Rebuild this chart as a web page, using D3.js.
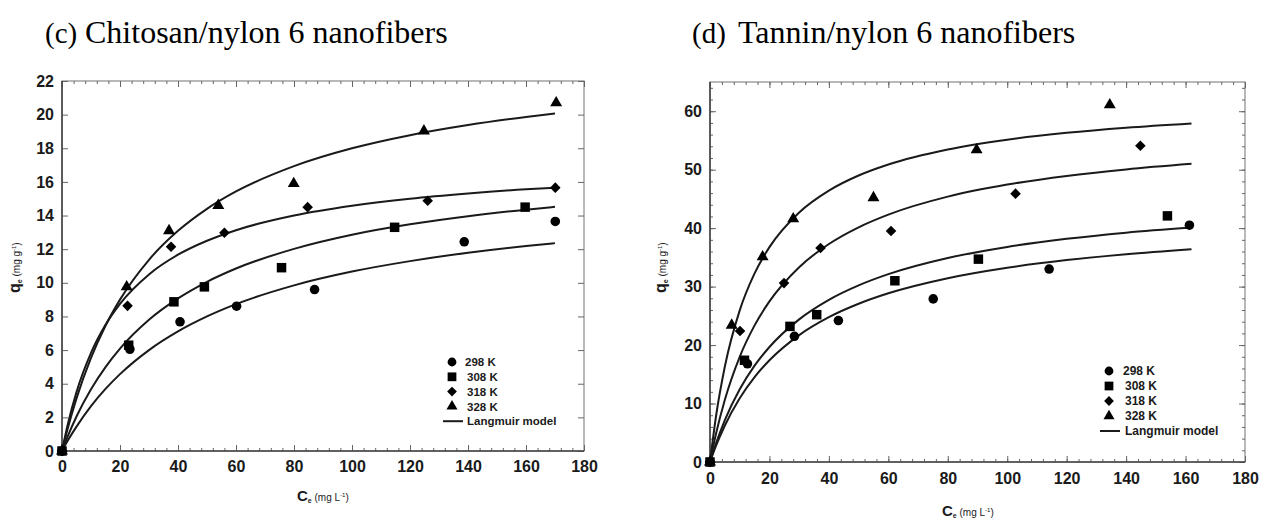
<!DOCTYPE html>
<html>
<head>
<meta charset="utf-8">
<script src="https://cdn.jsdelivr.net/npm/d3@7"></script>
<style>
  body { margin: 0; background: #fff; }
  svg text { font-family: "Liberation Sans", Arial, sans-serif; fill: #1a1a1a; }
  svg .title { font-family: "Liberation Serif", "Times New Roman", serif; fill: #000; }
</style>
</head>
<body>
<svg id="chart" width="1261" height="521"></svg>
<script>

// ---- Data ----

// tick labels
const xTicks = [0, 20, 40, 60, 80, 100, 120, 140, 160, 180];
const chitosanYTicks = [0, 2, 4, 6, 8, 10, 12, 14, 16, 18, 20, 22];
const tanninYTicks = [0, 10, 20, 30, 40, 50, 60];
const legendLabels = ["298 K", "308 K", "318 K", "328 K", "Langmuir model"];

// (c) Chitosan/nylon 6 - measured points [Ce, qe]
const chitosan298 = [[0, 0], [23.4, 6.05], [40.7, 7.68], [60.2, 8.61], [87.1, 9.6], [138.7, 12.44], [170.1, 13.65]];
const chitosan308 = [[0, 0], [23.0, 6.29], [38.6, 8.87], [49.1, 9.76], [75.7, 10.9], [114.7, 13.3], [159.7, 14.5]];
const chitosan318 = [[0, 0], [22.6, 8.63], [37.6, 12.14], [56.0, 12.98], [84.7, 14.5], [126.1, 14.88], [170.1, 15.66]];
const chitosan328 = [[0, 0], [22.3, 9.76], [36.9, 13.1], [53.9, 14.6], [79.9, 15.9], [124.8, 19.03], [170.4, 20.7]];

// (c) Langmuir model lines, traced
const chitosanFit298 = [[0, 0], [2, 0.62], [5, 1.45], [10, 2.67], [15, 3.69], [20, 4.57], [30, 6.0], [40, 7.11], [50, 8.0], [60, 8.73], [80, 9.85], [100, 10.67], [120, 11.29], [140, 11.79], [160, 12.19], [170, 12.36]];
const chitosanFit308 = [[0, 0], [2, 0.88], [5, 2.05], [10, 3.67], [15, 4.99], [20, 6.09], [30, 7.8], [40, 9.07], [50, 10.06], [60, 10.85], [80, 12.02], [100, 12.86], [120, 13.48], [140, 13.96], [160, 14.35], [170, 14.52]];
const chitosanFit318 = [[0, 0], [2, 1.59], [5, 3.5], [10, 5.83], [15, 7.5], [20, 8.75], [30, 10.5], [40, 11.67], [50, 12.5], [60, 13.13], [80, 14.0], [100, 14.58], [120, 15.0], [140, 15.31], [160, 15.56], [170, 15.66]];
const chitosanFit328 = [[0, 0], [2, 1.36], [5, 3.13], [10, 5.54], [15, 7.45], [20, 9.0], [30, 11.37], [40, 13.09], [50, 14.4], [60, 15.43], [80, 16.94], [100, 18.0], [120, 18.78], [140, 19.38], [160, 19.86], [170, 20.07]];

// (d) Tannin/nylon 6 - measured points [Ce, qe]
const tannin298 = [[0, 0], [12.6, 16.8], [28.4, 21.5], [43.2, 24.2], [75.1, 27.9], [114.1, 33.0], [161.3, 40.5]];
const tannin308 = [[0, 0], [11.6, 17.4], [26.9, 23.2], [35.9, 25.2], [62.2, 31.0], [90.3, 34.7], [153.9, 42.1]];
const tannin318 = [[0, 0], [10.1, 22.4], [24.9, 30.6], [37.2, 36.6], [60.9, 39.5], [102.8, 45.9], [144.8, 54.1]];
const tannin328 = [[0, 0], [7.3, 23.4], [17.7, 35.1], [28.0, 41.6], [55.0, 45.2], [89.7, 53.4], [134.5, 61.1]];

// (d) Langmuir model lines, traced
const tanninFit298 = [[0, 0], [2, 2.74], [5, 6.25], [10, 10.91], [15, 14.52], [20, 17.4], [30, 21.71], [40, 24.78], [50, 27.07], [60, 28.86], [80, 31.44], [100, 33.23], [120, 34.54], [140, 35.53], [162, 36.4]];
const tanninFit308 = [[0, 0], [2, 3.16], [5, 7.17], [10, 12.44], [15, 16.48], [20, 19.67], [30, 24.4], [40, 27.74], [50, 30.21], [60, 32.13], [80, 34.89], [100, 36.78], [120, 38.17], [140, 39.22], [162, 40.1]];
const tanninFit318 = [[0, 0], [2, 4.79], [5, 10.65], [10, 18.0], [15, 23.37], [20, 27.47], [30, 33.32], [40, 37.29], [50, 40.15], [60, 42.32], [80, 45.39], [100, 47.45], [120, 48.94], [140, 50.05], [162, 51.0]];
const tanninFit328 = [[0, 0], [2, 7.74], [5, 16.33], [10, 25.94], [15, 32.27], [20, 36.75], [30, 42.68], [40, 46.42], [50, 49.0], [60, 50.88], [80, 53.45], [100, 55.13], [120, 56.3], [140, 57.17], [162, 57.9]];

// ---- Drawing ----

const svg = d3.select("#chart");
const ink = "#1a1a1a";

// marker shapes per temperature (diamond = square turned 45deg)
const shapes = [
  { type: d3.symbolCircle,   size: 72, rot: 0 },
  { type: d3.symbolSquare,   size: 90, rot: 0 },
  { type: d3.symbolSquare,   size: 56, rot: 45 },
  { type: d3.symbolTriangle, size: 62, rot: 0 }
];

function drawPanel(p) {
  const g = svg.append("g");

  const x = d3.scaleLinear().domain([0, 180]).range([p.left, p.right]);
  const y = d3.scaleLinear().domain([0, p.yMax]).range([p.bottom, p.top]);

  // Frame: top and right in grey, left and bottom darker
  g.append("rect")
    .attr("x", p.left).attr("y", p.top)
    .attr("width", p.right - p.left).attr("height", p.bottom - p.top)
    .attr("fill", "none").attr("stroke", "#8a8a8a").attr("stroke-width", 1.2);

  // Minor ticks (no labels)
  const xMinor = d3.range(0, 181, 4);
  g.append("g").attr("transform", `translate(0,${p.bottom})`)
    .call(d3.axisBottom(x).tickValues(xMinor).tickSize(-3).tickFormat(""));
  g.append("g").attr("transform", `translate(0,${p.top})`)
    .call(d3.axisTop(x).tickValues(xMinor).tickSize(-3).tickFormat(""));
  if (p.yMinor) {
    g.append("g").attr("transform", `translate(${p.left},0)`)
      .call(d3.axisLeft(y).tickValues(p.yMinor).tickSize(-3).tickFormat(""));
    g.append("g").attr("transform", `translate(${p.right},0)`)
      .call(d3.axisRight(y).tickValues(p.yMinor).tickSize(-3).tickFormat(""));
  }

  // Major ticks, mirrored
  g.append("g").attr("transform", `translate(0,${p.top})`)
    .call(d3.axisTop(x).tickValues(xTicks).tickSize(-6).tickFormat(""));
  g.append("g").attr("transform", `translate(${p.right},0)`)
    .call(d3.axisRight(y).tickValues(p.yTicks).tickSize(-6).tickFormat(""));

  // Labelled axes
  const xAxis = g.append("g").attr("transform", `translate(0,${p.bottom})`)
    .call(d3.axisBottom(x).tickValues(xTicks).tickSize(-6).tickPadding(p.xPad));
  const yAxis = g.append("g").attr("transform", `translate(${p.left},0)`)
    .call(d3.axisLeft(y).tickValues(p.yTicks).tickSize(-6).tickPadding(8));

  [xAxis, yAxis].forEach(a => {
    a.selectAll("text").style("font-size", "16px").style("font-weight", "bold").attr("fill", ink);
  });
  g.selectAll(".domain").remove();
  g.selectAll(".tick line").attr("stroke", "#666");

  // Darker left / bottom lines
  g.append("line").attr("x1", p.left).attr("x2", p.left).attr("y1", p.top).attr("y2", p.bottom)
    .attr("stroke", "#444").attr("stroke-width", 1.6);
  g.append("line").attr("x1", p.left).attr("x2", p.right).attr("y1", p.bottom).attr("y2", p.bottom)
    .attr("stroke", "#444").attr("stroke-width", 1.6);

  // Langmuir lines
  const line = d3.line().x(d => x(d[0])).y(d => y(d[1])).curve(d3.curveMonotoneX);
  p.fits.forEach(f => {
    g.append("path").datum(f)
      .attr("d", line)
      .attr("fill", "none").attr("stroke", ink).attr("stroke-width", 2);
  });

  // Measured points
  p.points.forEach((pts, i) => {
    const s = shapes[i];
    g.selectAll(null).data(pts).enter().append("path")
      .attr("d", d3.symbol().type(s.type).size(s.size))
      .attr("transform", d => `translate(${x(d[0])},${y(d[1])}) rotate(${s.rot})`)
      .attr("fill", "#000");
  });

  // Legend
  const lg = g.append("g");
  legendLabels.forEach((lab, i) => {
    const ly = p.legY + i * p.legStep;
    if (i < 4) {
      const s = shapes[i];
      lg.append("path")
        .attr("d", d3.symbol().type(s.type).size(s.size * 0.85))
        .attr("transform", `translate(${p.legSymX},${ly}) rotate(${s.rot})`)
        .attr("fill", "#000");
    } else {
      lg.append("line")
        .attr("x1", p.legSymX - 9).attr("x2", p.legSymX + 11)
        .attr("y1", ly).attr("y2", ly)
        .attr("stroke", ink).attr("stroke-width", 2);
    }
    lg.append("text")
      .attr("x", p.legTextX + (i === 0 ? -2 : 0)).attr("y", ly)
      .attr("dy", "0.36em")
      .style("font-size", p.legFont + "px").style("font-weight", "bold")
      .attr("fill", "#222")
      .text(lab);
  });

  // Y axis label: qe (mg g-1)
  const yl = g.append("text")
    .attr("transform", `translate(${p.yLabX},${p.yLabY}) rotate(-90)`);
  yl.append("tspan").text("q").style("font-size", "16px").style("font-weight", "bold");
  yl.append("tspan").text("e").style("font-size", "7px").style("font-weight", "bold").attr("dy", 2);
  yl.append("tspan").text(" (mg g").style("font-size", "10px").attr("dy", -2);
  yl.append("tspan").text("-1").style("font-size", "6px").attr("dy", -4);
  yl.append("tspan").text(")").style("font-size", "10px").attr("dy", 4);

  // X axis label: Ce (mg L-1)
  const xl = g.append("text").attr("x", p.xLabX).attr("y", p.xLabY);
  xl.append("tspan").text("C").style("font-size", "15px").style("font-weight", "bold");
  xl.append("tspan").text("e").style("font-size", "7px").style("font-weight", "bold").attr("dy", 2);
  xl.append("tspan").text(" (mg L").style("font-size", "10px").attr("dy", -2);
  xl.append("tspan").text("-1").style("font-size", "6px").attr("dy", -4);
  xl.append("tspan").text(")").style("font-size", "10px").attr("dy", 4);

  // Title
  svg.append("text").attr("class", "title")
    .attr("x", p.titleX).attr("y", 43)
    .style("font-size", "29px")
    .text(p.tag);
  svg.append("text").attr("class", "title")
    .attr("x", p.titleX + p.titleGap).attr("y", 43)
    .style("font-size", "32px")
    .text(p.title);
}

// (c) Chitosan/nylon 6 nanofibers
drawPanel({
  left: 62, right: 584, top: 81, bottom: 451,
  yMax: 22, yTicks: chitosanYTicks, yMinor: null, xPad: 10,
  points: [chitosan298, chitosan308, chitosan318, chitosan328],
  fits: [chitosanFit298, chitosanFit308, chitosanFit318, chitosanFit328],
  legSymX: 452, legTextX: 467, legY: 362, legStep: 14.8, legFont: 11.5,
  yLabX: 20, yLabY: 293, xLabX: 297, xLabY: 501,
  titleX: 45, titleGap: 40, tag: "(c)", title: "Chitosan/nylon 6 nanofibers"
});

// (d) Tannin/nylon 6 nanofibers
drawPanel({
  left: 710, right: 1245, top: 82, bottom: 462,
  yMax: 65, yTicks: tanninYTicks, yMinor: d3.range(0, 65, 2), xPad: 11,
  points: [tannin298, tannin308, tannin318, tannin328],
  fits: [tanninFit298, tanninFit308, tanninFit318, tanninFit328],
  legSymX: 1109, legTextX: 1125, legY: 371, legStep: 15, legFont: 12,
  yLabX: 666, yLabY: 293, xLabX: 942, xLabY: 516,
  titleX: 692, titleGap: 46, tag: "(d)", title: "Tannin/nylon 6 nanofibers"
});

</script>
</body>
</html>
